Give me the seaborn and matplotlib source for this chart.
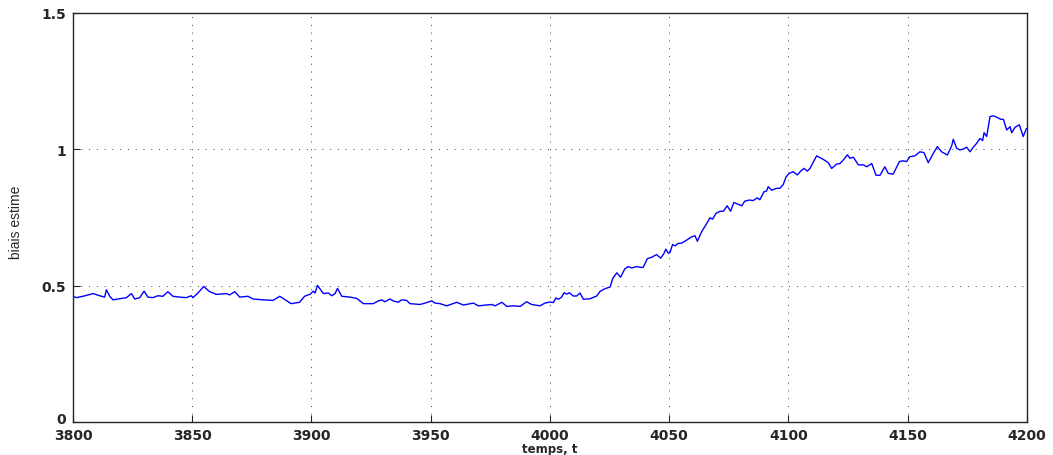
import matplotlib
matplotlib.use("Agg")
import matplotlib.pyplot as plt
import matplotlib.transforms as mtrans
import seaborn as sns
import pandas as pd

# values
temps = [
    3800.0, 3801.4, 3804.2, 3808.4, 3811.2, 3813.3, 3814.0, 3815.4, 3816.8, 3822.4,
    3824.5, 3825.9, 3828.0, 3829.8, 3831.4, 3833.5, 3835.6, 3837.7, 3839.8, 3841.9,
    3844.7, 3847.5, 3849.6, 3850.3, 3852.4, 3854.8, 3857.3, 3860.1, 3864.3, 3865.7,
    3867.8, 3869.9, 3873.4, 3875.5, 3879.7, 3883.9, 3886.7, 3889.4, 3891.5, 3895.0,
    3897.1, 3898.5, 3899.4, 3900.8, 3901.5, 3902.5, 3905.0, 3907.1, 3908.5, 3909.9,
    3910.9, 3912.7, 3916.2, 3919.0, 3921.8, 3925.9, 3928.0, 3929.4, 3930.8, 3932.9,
    3934.3, 3936.4, 3937.8, 3939.9, 3941.3, 3945.5, 3947.6, 3950.4, 3951.8, 3953.9,
    3956.7, 3960.9, 3963.7, 3967.9, 3970.0, 3973.5, 3975.6, 3977.0, 3979.8, 3981.9,
    3984.7, 3987.5, 3990.2, 3992.3, 3995.8, 3997.9,
    4000.0, 4001.4, 4002.5, 4003.5, 4004.9, 4005.9, 4007.0, 4008.1, 4009.8, 4011.2,
    4012.6, 4014.0, 4016.8, 4019.6, 4021.0, 4023.1, 4025.2, 4026.3, 4028.0, 4029.6,
    4031.4, 4032.8, 4034.2, 4036.3, 4038.0, 4039.1, 4040.8, 4042.6, 4044.7, 4046.4,
    4047.8, 4048.6, 4049.6,
    4050.3, 4051.4, 4052.4, 4053.8, 4055.2, 4057.3, 4059.4, 4060.8, 4061.8, 4063.6,
    4065.7, 4067.1, 4068.2, 4069.6, 4071.3, 4072.7, 4074.3, 4075.7, 4077.1, 4079.0,
    4080.4, 4081.7, 4083.6, 4085.2, 4086.9, 4088.0, 4089.7, 4090.8, 4091.5, 4092.9,
    4095.0, 4096.4, 4097.8, 4099.0, 4100.3, 4102.0, 4103.7, 4105.1, 4106.5, 4107.9,
    4109.0, 4111.8, 4114.6, 4116.7, 4118.1, 4120.2, 4121.6, 4123.0, 4124.7, 4125.8,
    4127.2, 4129.3, 4131.4, 4132.8, 4134.9, 4136.7, 4138.4, 4140.4, 4141.8, 4143.9,
    4146.5, 4148.1, 4149.5, 4150.9, 4153.0, 4155.1, 4156.8, 4158.6, 4160.7, 4162.4,
    4164.2, 4166.6, 4168.4, 4169.1, 4170.5, 4171.9, 4173.3, 4174.7, 4176.1, 4177.5,
    4178.9, 4180.3, 4181.4, 4182.0, 4183.1, 4184.5, 4185.9, 4187.3, 4189.0, 4190.1,
    4191.5, 4192.9, 4193.6, 4195.0, 4196.8, 4198.4, 4199.8,
]
biais = [
    0.461, 0.456, 0.461, 0.471, 0.463, 0.458, 0.485, 0.461, 0.448, 0.456,
    0.471, 0.451, 0.456, 0.480, 0.458, 0.456, 0.463, 0.461, 0.478, 0.461,
    0.458, 0.456, 0.463, 0.456, 0.473, 0.497, 0.478, 0.468, 0.471, 0.466,
    0.478, 0.458, 0.461, 0.451, 0.448, 0.446, 0.461, 0.446, 0.434, 0.439,
    0.461, 0.466, 0.468, 0.480, 0.473, 0.501, 0.471, 0.473, 0.463, 0.471,
    0.490, 0.461, 0.458, 0.453, 0.434, 0.434, 0.444, 0.448, 0.441, 0.451,
    0.444, 0.439, 0.448, 0.446, 0.434, 0.431, 0.436, 0.444, 0.436, 0.434,
    0.426, 0.439, 0.429, 0.436, 0.426, 0.429, 0.431, 0.426, 0.439, 0.424,
    0.426, 0.424, 0.441, 0.431, 0.426, 0.436,
    0.440, 0.438, 0.455, 0.450, 0.458, 0.474, 0.469, 0.474, 0.462, 0.462,
    0.473, 0.450, 0.452, 0.462, 0.479, 0.489, 0.495, 0.526, 0.547, 0.531,
    0.562, 0.570, 0.565, 0.570, 0.567, 0.567, 0.599, 0.604, 0.614, 0.601,
    0.618, 0.634, 0.619,
    0.621, 0.651, 0.646, 0.655, 0.656, 0.667, 0.679, 0.683, 0.663, 0.698,
    0.728, 0.749, 0.744, 0.765, 0.773, 0.773, 0.793, 0.773, 0.805, 0.798,
    0.793, 0.810, 0.814, 0.812, 0.822, 0.815, 0.844, 0.847, 0.863, 0.850,
    0.857, 0.857, 0.871, 0.899, 0.912, 0.918, 0.906, 0.920, 0.930, 0.920,
    0.930, 0.976, 0.963, 0.951, 0.930, 0.946, 0.948, 0.961, 0.980, 0.967,
    0.971, 0.943, 0.943, 0.936, 0.948, 0.905, 0.905, 0.936, 0.912, 0.909,
    0.955, 0.958, 0.955, 0.973, 0.976, 0.991, 0.988, 0.951, 0.985, 1.010,
    0.991, 0.979, 1.012, 1.037, 1.004, 0.998, 1.001, 1.008, 0.991, 1.008,
    1.022, 1.040, 1.032, 1.061, 1.047, 1.120, 1.123, 1.118, 1.110, 1.110,
    1.071, 1.083, 1.061, 1.081, 1.090, 1.047, 1.077,
]

x_ticks = [3800, 3850, 3900, 3950, 4000, 4050, 4100, 4150, 4200]
y_ticks = [0, 0.5, 1, 1.5]
y_labels = ["0", "0.5", "1", "1.5"]

df = pd.DataFrame({"temps": temps, "biais": biais})

sns.set_style("ticks")
plt.rcParams["font.family"] = ["DejaVu Sans"]

fig = plt.figure(figsize=(10.53, 4.56), dpi=100)
ax = fig.add_axes([0.0693, 0.0724, 0.9060, 0.8969])

sns.lineplot(data=df, x="temps", y="biais", color="#0000ff", linewidth=1.0,
             estimator=None, ax=ax)

ax.set_xlim(3800, 4200)
ax.set_ylim(0, 1.5)
ax.set_xticks(x_ticks)
ax.set_yticks(y_ticks)
ax.set_yticklabels(y_labels)
ax.tick_params(direction="in", length=5, width=0.8, labelsize=10)
ax.tick_params(axis="x", pad=4)
ax.tick_params(axis="y", pad=5)
for lab in ax.get_xticklabels() + ax.get_yticklabels():
    lab.set_fontweight("bold")
# lift the "0" a little so it clears "3800"
zero = ax.get_yticklabels()[0]
zero.set_transform(zero.get_transform()
                   + mtrans.ScaledTranslation(0, 3 / 72, fig.dpi_scale_trans))
ax.grid(True, color="#444444", linestyle=(0, (1, 7)), linewidth=0.7)
for side in ax.spines.values():
    side.set_visible(True)
    side.set_linewidth(1.0)

ax.set_xlabel("temps, t", fontsize=8.5, fontweight="bold")
ax.xaxis.set_label_coords(0.5, -0.048)
ax.set_ylabel("biais estime", fontsize=10,
              family=["Liberation Sans", "DejaVu Sans"])
ax.yaxis.set_label_coords(-0.052, 0.49)

fig.savefig("out.png", dpi=100)
